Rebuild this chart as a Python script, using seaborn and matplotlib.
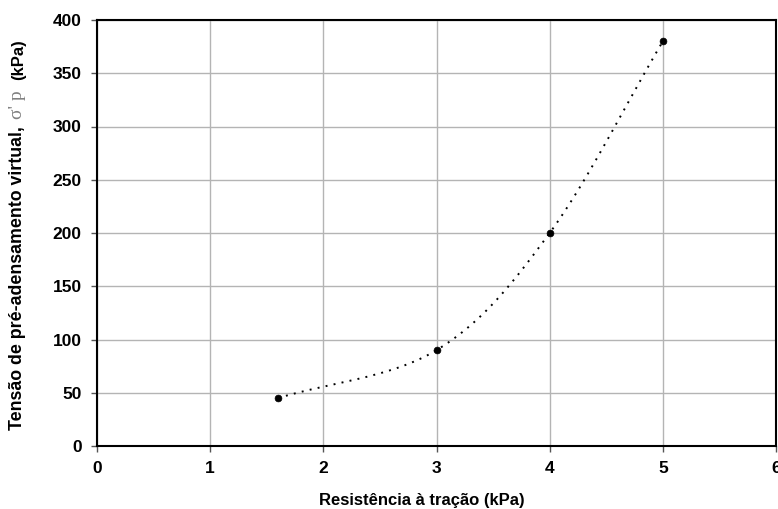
import numpy as np
import matplotlib
matplotlib.use("Agg")
import matplotlib.pyplot as plt
import seaborn as sns
import pandas as pd

# Data
resistencia = [1.6, 3.0, 4.0, 5.0]
tensao = [45, 90, 200, 380]
x_ticks = [0, 1, 2, 3, 4, 5, 6]
y_ticks = [0, 50, 100, 150, 200, 250, 300, 350, 400]

sns.set_style("white")
plt.rcParams['font.family'] = ['Liberation Sans', 'DejaVu Sans']
plt.rcParams['text.color'] = 'black'
plt.rcParams['axes.labelcolor'] = 'black'
plt.rcParams['xtick.color'] = 'black'
plt.rcParams['ytick.color'] = 'black'

fig = plt.figure(figsize=(7.78, 5.09), dpi=100)
ax = fig.add_axes([97/778, 1 - 446/509, (776 - 97)/778, (446 - 20)/509])

# Smoothed curve (Catmull-Rom through the data points, like Excel's smoothed line)
px = np.array(resistencia, dtype=float)
py = np.array(tensao, dtype=float)
P = np.column_stack([px, py])
Pext = np.vstack([P[0] - (P[1] - P[0]), P, P[-1] + (P[-1] - P[-2])])
curve = []
t = np.linspace(0, 1, 60)
for i in range(1, len(Pext) - 2):
    p0, p1, p2, p3 = Pext[i - 1], Pext[i], Pext[i + 1], Pext[i + 2]
    tt = t[:, None]
    seg = 0.5 * ((2 * p1) + (-p0 + p2) * tt + (2 * p0 - 5 * p1 + 4 * p2 - p3) * tt ** 2
                 + (-p0 + 3 * p1 - 3 * p2 + p3) * tt ** 3)
    curve.append(seg if i == 1 else seg[1:])
curve = np.vstack(curve)
df_curve = pd.DataFrame({"x": curve[:, 0], "y": curve[:, 1]})
sns.lineplot(data=df_curve, x="x", y="y", sort=False, ax=ax, color="black",
             linewidth=1.4, linestyle=(0, (1, 3.2)), estimator=None)

df = pd.DataFrame({"x": resistencia, "y": tensao})
sns.scatterplot(data=df, x="x", y="y", ax=ax, color="black", s=24, edgecolor="black",
                linewidth=0.5, zorder=5)

ax.set_xlim(0, 6)
ax.set_ylim(0, 400)
ax.set_xticks(x_ticks)
ax.set_yticks(y_ticks)
ax.set_xticklabels([str(v) for v in x_ticks], fontweight="bold", fontsize=12.5, color="black")
ax.set_yticklabels([str(v) for v in y_ticks], fontweight="bold", fontsize=12.5, color="black")
ax.grid(True, color="#b4b4b4", linewidth=1.0)
ax.set_axisbelow(True)
for s in ax.spines.values():
    s.set_color("black")
    s.set_linewidth(1.5)
ax.tick_params(axis="both", direction="out", length=4, width=1, color="#555555",
               bottom=True, left=True, pad=7)

ax.set_xlabel("Resistência à tração (kPa)", fontweight="bold", fontsize=12, va="center",
              color="black")
ax.xaxis.set_label_coords((422 - 97) / 679, (446 - 500) / 426)
ax.set_ylabel("")

# Y label in pieces
fig.text(18/778, 1 - 430/509, "Tensão de pré-adensamento virtual,", rotation=90,
         fontweight="bold", fontsize=12.8, ha="center", va="bottom", color="black")
fig.text(18/778, 1 - 119/509, "σ' p", rotation=90, family=["Liberation Serif", "DejaVu Serif"],
         fontsize=14, color="#808080", ha="center", va="bottom")
fig.text(19/778, 1 - 80/509, "(kPa)", rotation=90,
         fontweight="bold", fontsize=12, ha="center", va="bottom", color="black")

fig.savefig("out.png", dpi=100)
